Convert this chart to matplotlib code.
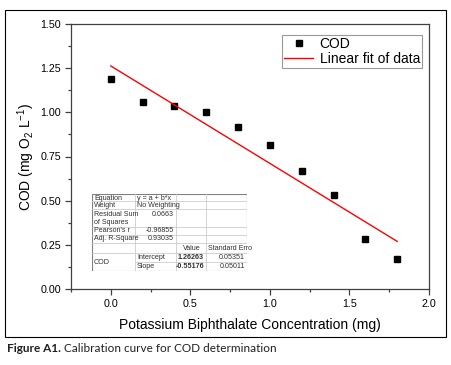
import numpy as np
import matplotlib
matplotlib.use("Agg")
import matplotlib.pyplot as plt
from matplotlib.patches import Rectangle
from matplotlib.ticker import MultipleLocator

plt.rcParams['font.family'] = ['Liberation Sans', 'DejaVu Sans']
plt.rcParams['mathtext.fontset'] = 'custom'
plt.rcParams['mathtext.rm'] = 'Liberation Sans'
plt.rcParams['mathtext.it'] = 'Liberation Sans:italic'

# datos
conc = [0.0, 0.2, 0.4, 0.6, 0.8, 1.0, 1.2, 1.4, 1.6, 1.8]
cod = [1.187, 1.056, 1.037, 1.001, 0.917, 0.816, 0.667, 0.531, 0.282, 0.167]
intercept = 1.26263
slope = -0.55176
se_int = 0.05351
se_slope = 0.05011
rss = 0.0663
pearson_r = -0.96855
adj_r2 = 0.93035

W, H = 451, 365
fig = plt.figure(figsize=(W / 100, H / 100), dpi=100)

# marco exterior
fig.patches.append(Rectangle((5 / W, (H - 337) / H), 441 / W, 327 / H,
                             transform=fig.transFigure, fill=False,
                             edgecolor='black', linewidth=0.8))

ax = fig.add_axes([71 / W, (H - 289) / H, (429 - 71) / W, (289 - 24) / H])
ax.plot(conc, cod, 's', color='black', markersize=4.3, label='COD')
x_fit = np.array([conc[0], conc[-1]])
ax.plot(x_fit, intercept + slope * x_fit, '-', color='red', linewidth=1.0,
        label='Linear fit of data')

ax.set_xlim(-0.25, 2.0)
ax.set_ylim(0, 1.5)
ax.xaxis.set_major_locator(MultipleLocator(0.5))
ax.xaxis.set_minor_locator(MultipleLocator(0.25))
ax.yaxis.set_major_locator(MultipleLocator(0.25))
ax.yaxis.set_minor_locator(MultipleLocator(0.125))
ax.xaxis.set_major_formatter(plt.FormatStrFormatter('%.1f'))
ax.yaxis.set_major_formatter(plt.FormatStrFormatter('%.2f'))
ax.tick_params(which='both', direction='out', top=False, right=False,
               color='#404040', width=0.9, labelsize=7.7, pad=2.5)
ax.tick_params(which='major', length=4.5)
ax.tick_params(which='minor', length=2.5)
for s in ax.spines.values():
    s.set_color('#404040')
    s.set_linewidth(0.9)

ax.set_xlabel('Potassium Biphthalate Concentration (mg)', fontsize=10, labelpad=7)
ax.set_ylabel(r'COD (mg O$_2$ L$^{-1}$)', fontsize=10)
ax.yaxis.set_label_coords((37 - 71) / 358, 0.5)

leg = ax.legend(loc='upper left', bbox_to_anchor=(282 / W, 1 - 35 / H),
                bbox_transform=fig.transFigure, borderaxespad=0, fontsize=10,
                frameon=True, fancybox=False, edgecolor='#808080',
                handlelength=2.1, handletextpad=0.45, labelspacing=0.08,
                borderpad=0.15)
leg.get_frame().set_linewidth(0.8)

# tabla de resultados del ajuste (coordenadas en pixeles)
tl, tr, tt, tb = 92, 247, 194, 271
tab = fig.add_axes([tl / W, (H - tb) / H, (tr - tl) / W, (tb - tt) / H])
tab.set_xlim(tl, tr)
tab.set_ylim(tb, tt)
tab.axis('off')
tab.add_patch(Rectangle((tl, tt), tr - tl, tb - tt, facecolor='white',
                        edgecolor='#808080', linewidth=0.8))
lc = '#cccccc'
for yy in [201, 209, 227, 235, 243, 253]:
    tab.plot([tl, tr], [yy, yy], color=lc, linewidth=0.6)
tab.plot([135, tr], [262, 262], color=lc, linewidth=0.6)
for xx in [135, 176, 206]:
    tab.plot([xx, xx], [tt, tb], color=lc, linewidth=0.6)

fs = 5.1
tc = '#303030'
def cell(x, y, s, ha='left', bold=False):
    tab.text(x, y, s, ha=ha, va='center', fontsize=fs, color=tc,
             fontweight='bold' if bold else 'normal')

cell(94, 198, 'Equation')
cell(137, 198, 'y = a + b*x')
cell(94, 205.3, 'Weight')
cell(137, 205.3, 'No Weighting')
cell(94, 214, 'Residual Sum')
cell(94, 222, 'of Squares')
cell(174, 214, f'{rss:.4f}', ha='right')
cell(94, 231, "Pearson's r")
cell(174, 231, f'{pearson_r:.5f}', ha='right')
cell(94, 239, 'Adj. R-Square')
cell(174, 239, f'{adj_r2:.5f}', ha='right')
cell(183, 248, 'Value')
cell(208, 248, 'Standard Erro')
cell(94, 262, 'COD')
cell(137, 257.5, 'Intercept')
cell(204, 257.5, f'{intercept:.5f}', ha='right', bold=True)
cell(245, 257.5, f'{se_int:.5f}', ha='right')
cell(137, 266.5, 'Slope')
cell(204, 266.5, f'{slope:.5f}', ha='right', bold=True)
cell(245, 266.5, f'{se_slope:.5f}', ha='right')

# leyenda de la figura
fig.canvas.draw()
cap_fam = ['Lato', 'DejaVu Sans']
t1 = fig.text(7 / W, 1 - 349 / H, 'Figure A1.', fontsize=8.5, fontweight='bold',
              family=cap_fam, color='#231f20', va='center')
bb = t1.get_window_extent(renderer=fig.canvas.get_renderer())
fig.text((bb.x1 + 3) / W, 1 - 349 / H, 'Calibration curve for COD determination',
         fontsize=8.5, family=cap_fam, color='#231f20', va='center')

fig.savefig('out.png', dpi=100)
